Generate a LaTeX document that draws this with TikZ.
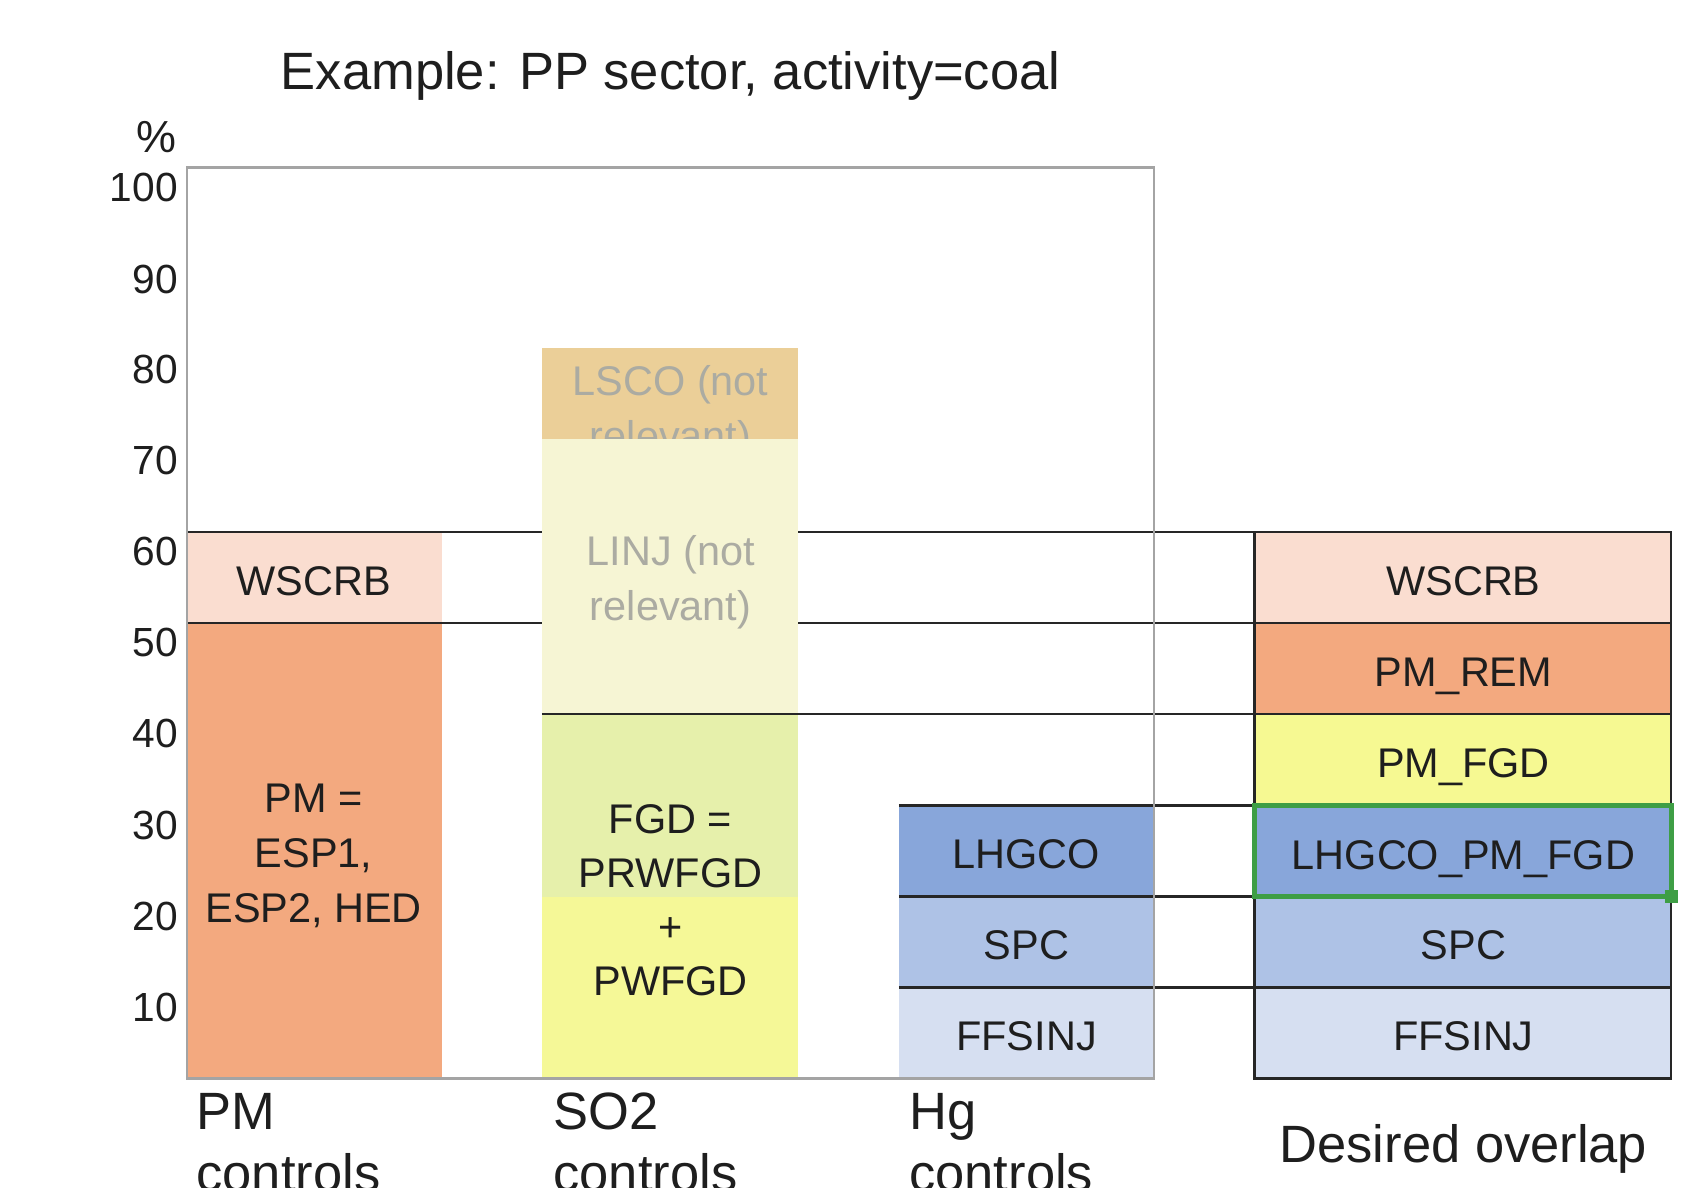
\documentclass[tikz,border=0pt]{standalone}
\usepackage{fontspec}
\setmainfont{Liberation Sans}
\begin{document}
\begin{tikzpicture}[x=0.01cm,y=-0.01cm,
  lbl/.style={inner sep=0pt,text=txt,font=\fontsize{10.9pt}{14.5pt}\selectfont,align=center},
  glbl/.style={lbl,text=graytxt},
  big/.style={inner sep=0pt,text=txt,font=\fontsize{13.8pt}{16.5pt}\selectfont},
  axl/.style={inner sep=0pt,text=txt,font=\fontsize{10.7pt}{12pt}\selectfont,anchor=base east},
  hline/.style={draw=black!85,line width=0.7pt},
  frame/.style={draw=framegray,line width=0.6pt},
  greenbox/.style={draw=selgreen,line width=1.3pt}]
\definecolor{txt}{HTML}{1E1E1E}
\definecolor{graytxt}{HTML}{ABABA2}
\definecolor{framegray}{HTML}{A4A4A4}
\definecolor{peach}{HTML}{FADDD0}
\definecolor{salmon}{HTML}{F3A97F}
\definecolor{tan}{HTML}{EBCF98}
\definecolor{cream}{HTML}{F6F5D4}
\definecolor{fgdgreen}{HTML}{E6F0AB}
\definecolor{fgdyellow}{HTML}{F5F897}
\definecolor{pmfgd}{HTML}{F6F992}
\definecolor{blueA}{HTML}{88A6DA}
\definecolor{blueB}{HTML}{AEC2E6}
\definecolor{blueC}{HTML}{D6DFF1}
\definecolor{selgreen}{HTML}{3E9E45}
\useasboundingbox (0,0) rectangle (1568,1098);
\clip (0,0) rectangle (1568,1098);
\fill[white] (0,0) rectangle (1568,1098);
% title and axis
\node[big,anchor=base] (title) at (620,83) {Example: PP sector, activity=coal};
\node[axl] (pct) at (164,141) {\fontsize{11.8pt}{12pt}\selectfont\%};
\node[axl] (y100) at (165,186) {100};
\node[axl] (y90) at (165,271) {90};
\node[axl] (y80) at (165,355) {80};
\node[axl] (y70) at (165,439) {70};
\node[axl] (y60) at (165,523) {60};
\node[axl] (y50) at (165,607) {50};
\node[axl] (y40) at (165,691) {40};
\node[axl] (y30) at (165,776) {30};
\node[axl] (y20) at (165,860) {20};
\node[axl] (y10) at (165,944) {10};
% PM column
\fill[peach] (173,492) rectangle (409,576);
\fill[salmon] (173,576) rectangle (409,997);
\node[lbl] (pmw) at (290,537) {WSCRB};
\node[lbl] (pmesp) at (290,791) {PM =\\ESP1,\\ESP2, HED};
% lines at 60 and 50
\coordinate (l60a) at (173,492); \coordinate (l60b) at (1160,492);
\coordinate (l50a) at (173,576); \coordinate (l50b) at (1160,576);
\draw[hline] (l60a) -- (l60b);
\draw[hline] (l50a) -- (l50b);
% SO2 column
\fill[tan] (501,322) rectangle (738,406);
\begin{scope}
\clip (501,322) rectangle (738,406);
\node[glbl] (lsco) at (620,381) {LSCO (not\\relevant)};
\end{scope}
\fill[cream] (501,406) rectangle (738,660);
\node[glbl] (linj) at (620,538) {LINJ (not\\relevant)};
\fill[fgdgreen] (501,660) rectangle (738,829);
\fill[fgdyellow] (501,829) rectangle (738,997);
\node[lbl,font=\fontsize{10.9pt}{14.2pt}\selectfont] (fgd) at (620,832) {FGD =\\PRWFGD\\+\\PWFGD};
\coordinate (l40a) at (501,660); \coordinate (l40b) at (1160,660);
\draw[hline] (l40a) -- (l40b);
% Hg column
\fill[blueA] (831,745) rectangle (1067,829);
\fill[blueB] (831,829) rectangle (1067,913);
\fill[blueC] (831,913) rectangle (1067,997);
\node[lbl] (hg1) at (949,790) {LHGCO};
\node[lbl] (hg2) at (949,874) {SPC};
\node[lbl] (hg3) at (949,958) {FFSINJ};
\coordinate (l30a) at (831,745); \coordinate (l30b) at (1160,745);
\coordinate (l20a) at (831,829); \coordinate (l20b) at (1160,829);
\coordinate (l10a) at (831,913); \coordinate (l10b) at (1160,913);
\draw[hline] (l30a) -- (l30b);
\draw[hline] (l20a) -- (l20b);
\draw[hline] (l10a) -- (l10b);
% frame
\coordinate (fr1) at (173,155); \coordinate (fr2) at (1067,997);
\draw[frame] (fr1) rectangle (fr2);
% desired overlap
\fill[peach] (1160,492) rectangle (1545,576);
\fill[salmon] (1160,576) rectangle (1545,660);
\fill[pmfgd] (1160,660) rectangle (1545,745);
\fill[blueA] (1160,745) rectangle (1545,829);
\fill[blueB] (1160,829) rectangle (1545,913);
\fill[blueC] (1160,913) rectangle (1545,997);
\draw[hline] (1160,576) -- (1545,576);
\draw[hline] (1160,660) -- (1545,660);
\draw[hline] (1160,913) -- (1545,913);
\coordinate (d1) at (1160,492); \coordinate (d2) at (1545,997);
\draw[hline] (d1) rectangle (d2);
\node[lbl] (dw) at (1353,537) {WSCRB};
\node[lbl] (dr) at (1353,625) {PM\_REM};
\node[lbl] (df) at (1353,709) {PM\_FGD};
\node[lbl] (dl) at (1353,794) {LHGCO\_PM\_FGD};
\node[lbl] (ds) at (1353,874) {SPC};
\node[lbl] (dff) at (1353,958) {FFSINJ};
\coordinate (g1) at (1160,745); \coordinate (g2) at (1545,829);
\draw[greenbox] (g1) rectangle (g2);
\fill[selgreen] (1539,823) rectangle (1551,835);
% bottom labels
\node[big,anchor=base west] (pmc) at (181,1044) {PM};
\node[big,anchor=base west] (pmc2) at (181,1102) {controls};
\node[big,anchor=base west] (soc) at (511,1044) {SO2};
\node[big,anchor=base west] (soc2) at (511,1102) {controls};
\node[big,anchor=base west] (hgc) at (840,1044) {Hg};
\node[big,anchor=base west] (hgc2) at (840,1102) {controls};
\node[big,anchor=base] (des) at (1353,1075) {Desired overlap};
\end{tikzpicture}
\end{document}
